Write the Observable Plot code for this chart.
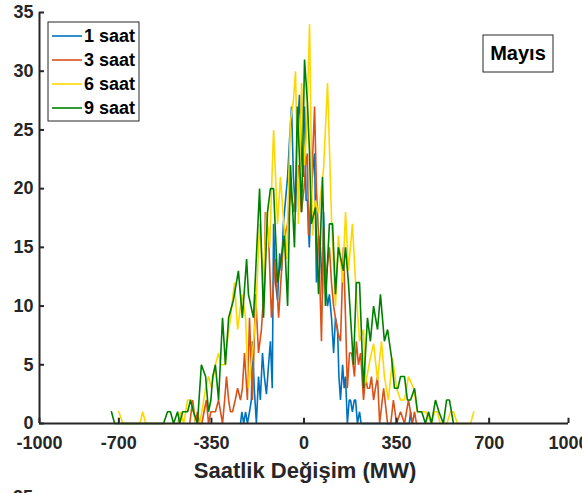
<!DOCTYPE html>
<html>
<head>
<meta charset="utf-8">
<script src="https://cdn.jsdelivr.net/npm/d3@7"></script>
<script src="https://cdn.jsdelivr.net/npm/@observablehq/plot@0.6"></script>
<style>
  body { margin: 0; background: #fff; }
  #chart svg { font-family: "Liberation Sans", Arial, sans-serif; }
</style>
</head>
<body>
<div id="chart"></div>
<script>
const seriesNames = ["1 saat", "3 saat", "6 saat", "9 saat"];
const seriesColors = ["#0072BD", "#D95319", "#FFD700", "#008000"];
const xTicks = [-1000, -700, -350, 0, 350, 700, 1000];
const yTicks = [0, 5, 10, 15, 20, 25, 30, 35];
const xLabel = "Saatlik Değişim (MW)";
const panelTitle = "Mayıs";

// 1 saat
const x1 = [-240,-235,-228,-221,-214,-206,-199,-195,-188,-180,-172,-165,-157,-150,-142,-134,-127,-120,-115,-108,-100,-92,-85,-78,-70,-62,-55,-47,-40,-32,-25,-17,-10,-3,2,8,13,20,28,35,40,47,55,62,70,74,81,89,96,104,112,119,127,132,138,146,152,157,164,171,176,183,190,195,202,210,216,230,260,300,340,380,398,403,408];
const y1 = [0,1,0,1,0,1,2,7,3,0,4,2,6,4,2.5,5,7,3,17,12,10.5,14.5,13,17,19,21,24,27,21,18,25,28,23,21,27,19,19,15,20,22,23,12,16,15,11,18,12,10,11,9,6,9,8,4,2,5,3,4,0,2,2,1,2,2,0,1,0,0,0,0,0,0,0,1,0];
// 3 saat
const x3 = [-432,-421,-410,-403,-395,-386,-378,-369,-361,-352,-346,-335,-323,-308,-300,-293,-285,-278,-270,-260,-251,-240,-233,-225,-214,-206,-195,-183,-172,-161,-150,-146,-134,-123,-115,-108,-96,-85,-78,-62,-50,-40,-30,-20,-10,0,6,13,17,28,40,47,55,66,74,81,96,104,112,127,138,149,157,164,172,180,191,198,206,214,225,233,240,248,255,263,270,278,286,301,316,328,338,350,365,380,395,410,418,425];
const y3 = [0,2,0,1,0,0,1,2,0,1,1,1,2,0,2,4,2,1,1,2,3,2,3,6,2,9,2,11,6,8,12,18,16,9,12,14,9,13,15.5,17,20,18,20,22,18,20,22,23,16,20,27,20,16,7,16.7,12,15,12,10,7.8,7,15,9,3,6,6,4,7,5,6,2,4,3,3,4,2,3,4,0,3,0,0,2,0,1,0,2,0,1,0];
// 6 saat
const x6 = [-700,-685,-620,-610,-598,-540,-490,-478,-467,-455,-440,-429,-418,-408,-395,-386,-372,-361,-350,-342,-335,-323,-315,-300,-290,-278,-263,-251,-240,-233,-221,-210,-195,-183,-168,-153,-142,-130,-115,-100,-89,-78,-66,-51,-40,-32,-21,-9,2,10,21,32,43,55,74,89,104,119,130,146,157,168,183,195,210,225,233,251,263,278,293,304,319,335,350,365,380,395,414,429,445,460,482,493,505,515,540,554,565,580,630,642];
const y6 = [1,0,0,1,0,0,0,0,1,0,2,2,1,0,0,1,3,4,3,4,5,6,5,5,7,9,12,8,10,11,9,3,6,9,17,12,18,15,25,17,21,17.5,14,25.8,27.5,30,17,29,22,25,34,16,19,17.9,21.7,29,17.5,10,16,12,18,13,17,12,7,8,3.4,5.6,6.8,3.7,7,4,2,5.6,3,2,2,4,3,1,1,1,0,1,1,0,0,1,1,0,0,1];
// 9 saat
const x9 = [-728,-716,-600,-531,-516,-505,-493,-478,-470,-459,-450,-440,-429,-418,-403,-388,-372,-361,-352,-345,-335,-323,-308,-297,-285,-267,-248,-233,-217,-210,-191,-168,-153,-138,-127,-115,-100,-74,-62,-51,-36,-25,-9,2,13,21,28,43,55,70,81,96,108,119,130,149,157,168,187,198,210,225,240,251,263,278,289,304,316,331,342,355,365,380,391,403,418,429,445,459,471,482,497,510,527,539,550,565];
const y9 = [1,0,0,0,1,1,0,1,0,1,1,1,2,1,0,5,4,1,2,4,5,2,9,5,9,10.5,13,9,14,11,9,20,9,18,20,20,12,16,10,22,15,27,18,31,27.3,23,17,18.4,11,21,10,17,17,11,15,13,15,12,5,12,12,3,9,7,10,8,11,7,8,5.6,3,3,4,4,2,2,3,1,1,0,1,0,2,1,0,2,2,0];

const seriesX = [x1, x3, x6, x9];
const seriesY = [y1, y3, y6, y9];
const rows = [];
seriesNames.forEach((name, i) => {
  seriesX[i].forEach((xv, j) => rows.push({ x: xv, y: seriesY[i][j], s: name }));
});

const axisColor = "#262626";
const chart = Plot.plot({
  width: 582,
  height: 493,
  marginLeft: 39,
  marginRight: 14,
  marginTop: 12,
  marginBottom: 70,
  style: { fontFamily: "'Liberation Sans', Arial, sans-serif", fontSize: "18px", fontWeight: "bold", color: axisColor, background: "#fff" },
  x: { domain: [-1000, 1000] },
  y: { domain: [0, 35] },
  color: { domain: seriesNames, range: seriesColors },
  marks: [
    Plot.line(rows, { x: "x", y: "y", z: "s", stroke: "s", strokeWidth: 1.6, strokeLinejoin: "miter" }),
    Plot.ruleY([0], { stroke: axisColor, strokeWidth: 2 }),
    Plot.ruleX([-1000], { stroke: axisColor, strokeWidth: 2 }),
    Plot.ruleX(xTicks, { x: d => d, y1: 0, y2: 0.45, stroke: axisColor, strokeWidth: 2 }),
    Plot.ruleY(yTicks, { y: d => d, x1: -1000, x2: -981, stroke: axisColor, strokeWidth: 2 }),
    Plot.axisX({ ticks: xTicks, tickSize: 0, tickPadding: 13, label: null, tickFormat: d => String(d) }),
    Plot.axisY({ ticks: yTicks, tickSize: 0, tickPadding: 6, label: null, tickFormat: d => String(d) })
  ]
});
document.getElementById("chart").appendChild(chart);

const svg = d3.select(chart);
// Legend
const lg = svg.append("g");
lg.append("rect").attr("x", 48).attr("y", 22).attr("width", 91).attr("height", 99)
  .attr("fill", "#fff").attr("stroke", axisColor).attr("stroke-width", 1);
seriesNames.forEach((name, i) => {
  const cy = 36 + i * 24;
  lg.append("line").attr("x1", 52).attr("x2", 82).attr("y1", cy).attr("y2", cy)
    .attr("stroke", seriesColors[i]).attr("stroke-width", 1.6);
  lg.append("text").attr("x", 84).attr("y", cy + 6).attr("font-size", 18)
    .attr("text-anchor", "start")
    .attr("font-weight", "bold").attr("fill", "#000").text(name);
});
// Panel title box
svg.append("rect").attr("x", 483).attr("y", 35).attr("width", 70).attr("height", 37)
  .attr("fill", "#fff").attr("stroke", axisColor).attr("stroke-width", 1);
svg.append("text").attr("x", 518).attr("y", 60).attr("text-anchor", "middle")
  .attr("font-size", 20).attr("font-weight", "bold").attr("fill", "#000").text(panelTitle);
// X label
svg.append("text").attr("x", 305).attr("y", 478).attr("text-anchor", "middle")
  .attr("font-size", 22).attr("font-weight", "bold").attr("fill", axisColor).text(xLabel);
// Next panel's top tick label, cut off at the bottom
svg.append("text").attr("x", 33).attr("y", 503).attr("text-anchor", "end")
  .attr("font-size", 18).attr("font-weight", "bold").attr("fill", axisColor).text("25");
</script>
</body>
</html>
